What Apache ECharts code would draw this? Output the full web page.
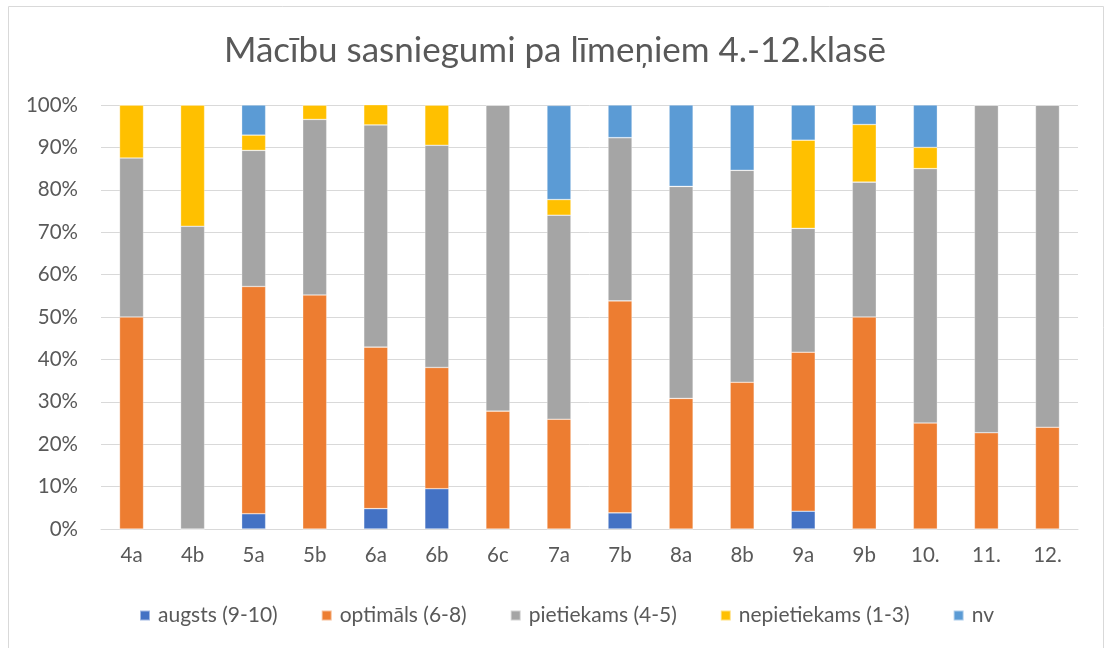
<!DOCTYPE html>
<html>
<head>
<meta charset="utf-8">
<script src="https://cdn.jsdelivr.net/npm/echarts@6/dist/echarts.min.js"></script>
<style>
html,body{margin:0;padding:0;background:#fff;}
#c{width:1110px;height:648px;}
</style>
</head>
<body>
<div id="c"></div>
<script>
const categories = ['4a','4b','5a','5b','6a','6b','6c','7a','7b','8a','8b','9a','9b','10.','11.','12.'];
const augsts       = [0, 0, 3.6, 0, 4.8, 9.5, 0, 0, 3.8, 0, 0, 4.2, 0, 0, 0, 0];
const optimals     = [50, 0, 53.6, 55.2, 38.1, 28.6, 27.8, 25.9, 50.0, 30.8, 34.6, 37.5, 50, 25, 22.7, 24];
const pietiekams   = [37.5, 71.4, 32.1, 41.4, 52.4, 52.4, 72.2, 48.1, 38.5, 50.0, 50.0, 29.2, 31.8, 60, 77.3, 76];
const nepietiekams = [12.5, 28.6, 3.6, 3.4, 4.8, 9.5, 0, 3.7, 0, 0, 0, 20.8, 13.6, 5, 0, 0];
const nv           = [0, 0, 7.1, 0, 0, 0, 0, 22.2, 7.7, 19.2, 15.4, 8.3, 4.6, 10, 0, 0];
const seriesNames = ['augsts (9-10)','optimāls (6-8)','pietiekams (4-5)','nepietiekams (1-3)','nv'];
const seriesData = [augsts, optimals, pietiekams, nepietiekams, nv];
const colors = ['#4472C4','#ED7D31','#A5A5A5','#FFC000','#5B9BD5'];
const FONT = 'Lato';

const chart = echarts.init(document.getElementById('c'));
chart.setOption({
  animation: false,
  color: colors,
  textStyle: {fontFamily: FONT},
  title: {
    text: 'Mācību sasniegumi pa līmeņiem 4.-12.klasē',
    left: 'center', top: 28,
    textStyle: {fontFamily: FONT, fontSize: 35, fontWeight: 'normal', color: '#595959'}
  },
  graphic: [{
    type: 'rect', shape: {x: 8.5, y: 6.5, width: 1095, height: 645},
    style: {fill: 'none', stroke: '#d9d9d9', lineWidth: 1}, silent: true, z: -1
  }],
  legend: {
    left: 134, top: 600,
    itemWidth: 10, itemHeight: 10, icon: 'rect', itemGap: 43,
    textStyle: {fontFamily: FONT, fontSize: 21, color: '#595959', padding: [0,0,0,3]},
    data: seriesNames
  },
  grid: {left: 101, right: 32, top: 105, bottom: 119, containLabel: false},
  xAxis: {
    type: 'category', data: categories,
    axisLine: {lineStyle: {color: '#d9d9d9', width: 1}},
    axisTick: {show: false},
    axisLabel: {color: '#595959', fontSize: 20.5, margin: 16, fontFamily: FONT}
  },
  yAxis: {
    type: 'value', min: 0, max: 100, interval: 10,
    axisLine: {show: false}, axisTick: {show: false},
    axisLabel: {formatter: '{value}%', color: '#595959', fontSize: 20.5, margin: 23, fontFamily: FONT},
    splitLine: {lineStyle: {color: '#d9d9d9', width: 1}}
  },
  series: seriesNames.map((n, i) => ({
    name: n, type: 'bar', stack: 'total', barWidth: 24,
    data: seriesData[i],
    itemStyle: {borderColor: 'rgba(255,255,255,0.5)', borderWidth: 0.6}
  }))
});
</script>
</body>
</html>
